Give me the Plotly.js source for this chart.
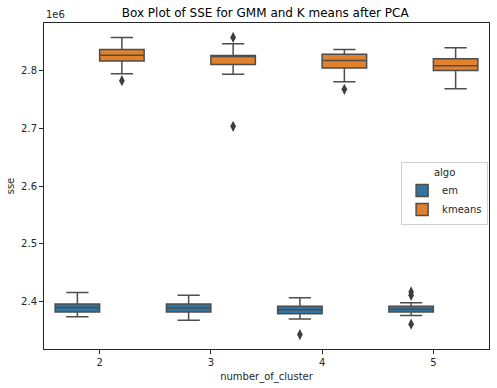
<!DOCTYPE html>
<html>
<head>
<meta charset="utf-8">
<script src="https://cdn.plot.ly/plotly-3.0.1.min.js"></script>
<style>html,body{margin:0;padding:0;background:#fff}#chart{width:497px;height:388px}</style>
</head>
<body>
<div id="chart"></div>
<script>
// categories (number_of_cluster)
var categories = ["2", "3", "4", "5"];
// em (GMM) box statistics (sse, in units of 1e6)
var emLower  = [2.374, 2.368, 2.370, 2.376];
var emQ1     = [2.382, 2.382, 2.379, 2.382];
var emMedian = [2.390, 2.389, 2.386, 2.387];
var emQ3     = [2.396, 2.396, 2.392, 2.392];
var emUpper  = [2.416, 2.411, 2.407, 2.398];
// em outliers: category index and value
var emOutCat = [2, 3, 3, 3];
var emOutVal = [2.343, 2.417, 2.411, 2.361];
// kmeans box statistics
var kmLower  = [2.795, 2.794, 2.781, 2.769];
var kmQ1     = [2.817, 2.811, 2.805, 2.8005];
var kmMedian = [2.827, 2.825, 2.818, 2.809];
var kmQ3     = [2.837, 2.8265, 2.829, 2.821];
var kmUpper  = [2.858, 2.847, 2.837, 2.840];
// kmeans outliers
var kmOutCat = [0, 1, 1, 2];
var kmOutVal = [2.783, 2.858, 2.704, 2.768];
var scale = 1e6;
var yTicks = [2.4, 2.5, 2.6, 2.7, 2.8];

var hueOffset = 0.2, boxW = 0.4;
var lineCol = "#4d4d4d";
function sc(a){ return a.map(function(v){ return v*scale; }); }
function pos(idx, off){ return idx.map(function(i){ return i+off; }); }
var idx = categories.map(function(c,i){ return i; });

function boxTrace(name, off, lo, q1, md, q3, up, fill){
  return {
    type: "box", name: name, x: pos(idx, off),
    q1: sc(q1), median: sc(md), q3: sc(q3), lowerfence: sc(lo), upperfence: sc(up),
    width: boxW, whiskerwidth: 0.5, boxpoints: false,
    fillcolor: fill, line: {color: lineCol, width: 1.5}, hoverinfo: "skip"
  };
}
function outTrace(cat, vals, off){
  return {
    type: "scatter", mode: "markers", showlegend: false,
    x: pos(cat, off), y: sc(vals),
    marker: {symbol: "diamond-tall", size: 8, color: "#3d3d3d"}
  };
}
var traces = [
  boxTrace("em", -hueOffset, emLower, emQ1, emMedian, emQ3, emUpper, "#3274a1"),
  boxTrace("kmeans", hueOffset, kmLower, kmQ1, kmMedian, kmQ3, kmUpper, "#e1812c"),
  outTrace(emOutCat, emOutVal, -hueOffset),
  outTrace(kmOutCat, kmOutVal, hueOffset)
];
var font = {family: "DejaVu Sans", size: 10, color: "#262626"};
var layout = {
  width: 497, height: 388,
  margin: {l: 44, r: 8, t: 23, b: 39},
  paper_bgcolor: "#fff", plot_bgcolor: "#fff",
  font: font,
  boxmode: "overlay",
  title: {text: "Box Plot of SSE for GMM and K means after PCA", font: {family: "DejaVu Sans", size: 12, color: "#000"}, x: 0.5335, xanchor: "center", y: 0.968, yanchor: "middle"},
  xaxis: {
    range: [-0.5, 3.5], tickvals: idx, ticktext: categories,
    showline: true, mirror: true, linecolor: "#262626", linewidth: 1,
    ticks: "outside", ticklen: 4, tickcolor: "#262626", showgrid: false, zeroline: false,
    title: {text: "number_of_cluster", font: font, standoff: 5}
  },
  yaxis: {
    range: [2.318e6, 2.883e6],
    tickvals: sc(yTicks), ticktext: yTicks.map(function(v){ return v.toFixed(1); }),
    showline: true, mirror: true, linecolor: "#262626", linewidth: 1,
    ticks: "outside", ticklen: 4, tickcolor: "#262626", showgrid: false, zeroline: false,
    title: {text: "sse", font: font, standoff: 4}
  },
  legend: {
    x: 0.998, y: 0.574, xanchor: "right", yanchor: "top",
    bgcolor: "#fff", bordercolor: "#d0d0d0", borderwidth: 1,
    title: {text: "algo", side: "top center", font: font},
    font: font, tracegroupgap: 2, itemwidth: 30
  },
  annotations: [{text: "1e6", xref: "paper", yref: "paper", x: 0, y: 1, xanchor: "left", yanchor: "bottom", yshift: 1, showarrow: false, font: font}]
};
Plotly.newPlot("chart", traces, layout, {staticPlot: true, displayModeBar: false});
</script>
</body>
</html>
